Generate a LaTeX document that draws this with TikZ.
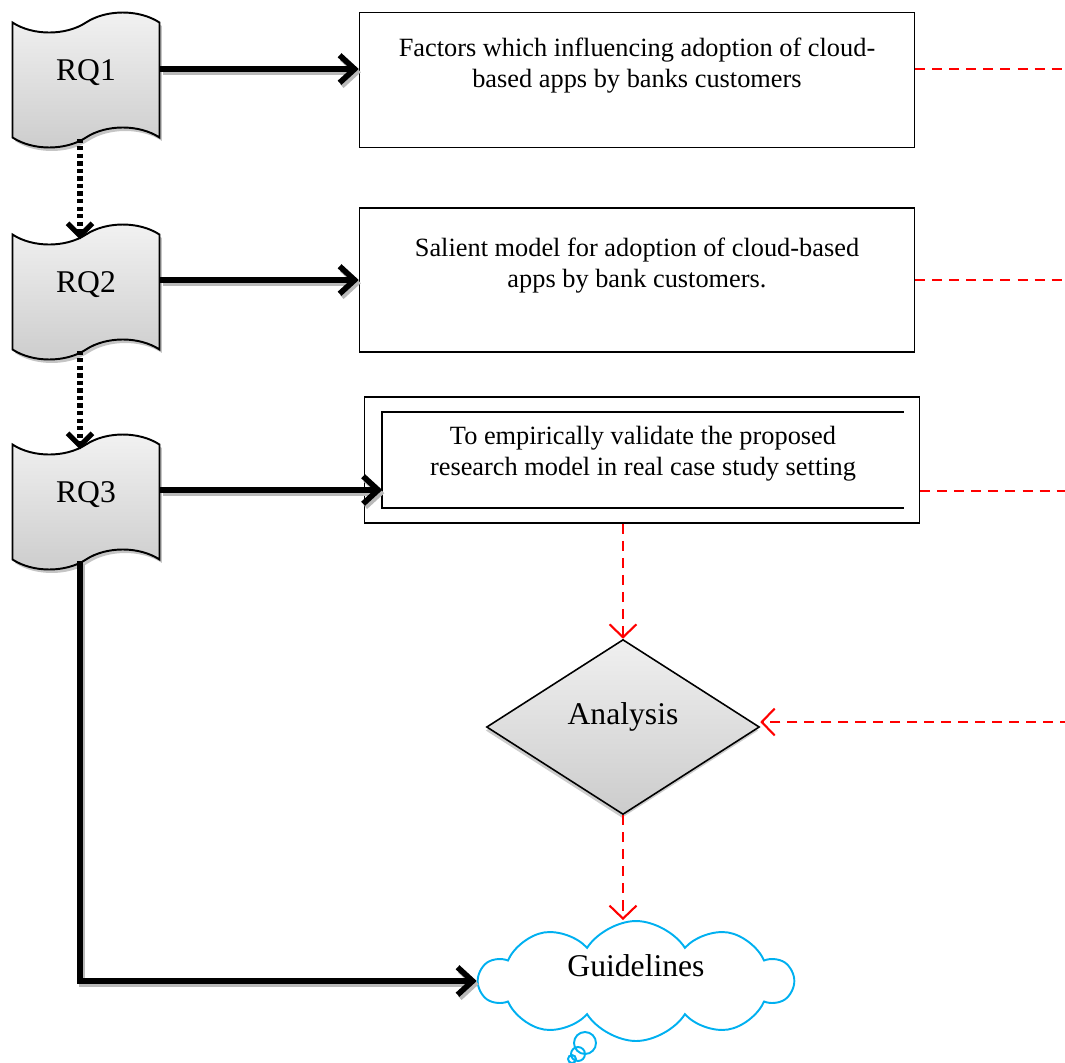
\documentclass[tikz,border=0pt]{standalone}
\usepackage{fontspec}
\setmainfont{Liberation Serif}
\usetikzlibrary{shapes.geometric, shapes.symbols, arrows.meta, calc, shadows}
\definecolor{cRed}{RGB}{255,0,0}
\definecolor{cCloud}{RGB}{0,176,240}
\tikzset{
	rq/.style      ={tape, draw=black, line width=1.1pt, minimum width=2.94cm, minimum height=2.7cm, tape bend height=0.4cm, top color=gray!10, bottom color=gray!40, font=\fontsize{18}{20}\selectfont, text depth=0.4cm, drop shadow={shadow xshift=0.05cm, shadow yshift=-0.07cm, fill=black!45}},
	goalbox/.style ={rectangle, draw=black, line width=0.9pt, minimum width=11.1cm, align=center, font=\fontsize{15}{17.5}\selectfont, text depth=0.7cm},
	decision/.style={diamond, draw=black, line width=0.9pt, minimum width=5.46cm, minimum height=3.5cm, inner sep=0pt, top color=gray!12, bottom color=gray!40, font=\fontsize{18}{20}\selectfont, text depth=0.55cm, drop shadow={shadow xshift=-0.02cm, shadow yshift=-0.07cm, fill=black!40}},
	thought/.style ={cloud, draw=cCloud, line width=1.1pt, cloud puffs=10, cloud puff arc=115, aspect=2.6, minimum width=6.26cm, minimum height=2.4cm, inner sep=0pt, font=\fontsize{18}{20}\selectfont, text depth=0.6cm},
	sig/.style     ={-{Straight Barb[length=3mm, width=5.5mm]}, line width=3.2pt, preaction={draw=gray!55, -{Straight Barb[length=3mm, width=5.5mm]}, line width=3.2pt, transform canvas={xshift=1.2pt, yshift=-1.8pt}}},
	dotsig/.style  ={-{Straight Barb[length=2.5mm, width=5mm]}, line width=3pt, dash pattern=on 2.5pt off 1.8pt},
	fb/.style      ={cRed, line width=1.2pt, dash pattern=on 5.7pt off 4pt},
	fbarr/.style   ={fb, -{Straight Barb[length=2.6mm, width=5.4mm]}},
}
\begin{document}
\begin{tikzpicture}[x=0.02cm, y=-0.02cm]
	\useasboundingbox (0,0) rectangle (1065,1062);
	% research questions
	\node[rq] (RQ1) at (86,80) {RQ1};
	\node[rq] (RQ2) at (86,292) {RQ2};
	\node[rq] (RQ3) at (86,502) {RQ3};
	% outcomes
	\node[goalbox, minimum height=2.7cm] (F1) at (637,80) {Factors which influencing adoption of cloud-\\based apps by banks customers};
	\node[goalbox, minimum height=2.88cm] (F2) at (637,280) {Salient model for adoption of cloud-based\\apps by bank customers.};
	\node[goalbox, minimum height=2.52cm] (F3) at (642,460) {};
	\node[goalbox, draw=none, minimum width=10.4cm, minimum height=1.9cm, text depth=0.36cm] (F3in) at (643,460) {To empirically validate the proposed\\research model in real case study setting};
	\draw[line width=0.9pt] (F3in.north east) -- (F3in.north west) -- (F3in.south west) -- (F3in.south east);
	\node[decision] (A) at (623,727) {Analysis};
	\node[thought] (G) at (636,981) {Guidelines};
	\draw[cCloud, line width=1.1pt] (585,1043) circle (11) (578,1054) circle (7) (572,1059) circle (4);
	% arrow heights and right-hand free ends
	\coordinate (a1) at ($(RQ1.east)+(0,-11)$);
	\coordinate (a2) at ($(RQ2.east)+(0,-12)$);
	\coordinate (a3) at ($(RQ3.east)+(0,-12)$);
	\coordinate (e1) at (1070,69);
	\coordinate (e2) at (1070,280);
	\coordinate (e3) at (1070,491);
	\coordinate (e4) at (1070,722);
	% black connectors
	\draw[sig] (a1) -- (a1 -| F1.west);
	\draw[sig] (a2) -- (a2 -| F2.west);
	\draw[sig] (a3) -- (a3 -| F3in.west);
	\draw[dotsig] ([xshift=-0.12cm]RQ1.south) -- ([xshift=-0.12cm, yshift=-0.12cm]RQ2.north);
	\draw[dotsig] ([xshift=-0.12cm]RQ2.south) -- ([xshift=-0.12cm, yshift=-0.12cm]RQ3.north);
	\draw[sig] ([xshift=-0.12cm]RQ3.south) -- ([xshift=-0.12cm]RQ3.south |- G.west) -- (G.west);
	% red feedback
	\draw[fb] (e1 -| F1.east) -- (e1);
	\draw[fb] (e2 -| F2.east) -- (e2);
	\draw[fb] (e3 -| F3.east) -- (e3);
	\draw[fbarr] (e4) -- (e4 -| A.east);
	\draw[fbarr] (A.north |- F3.south) -- (A.north);
	\draw[fbarr] (A.south) -- (A.south |- G.north);
\end{tikzpicture}
\end{document}
